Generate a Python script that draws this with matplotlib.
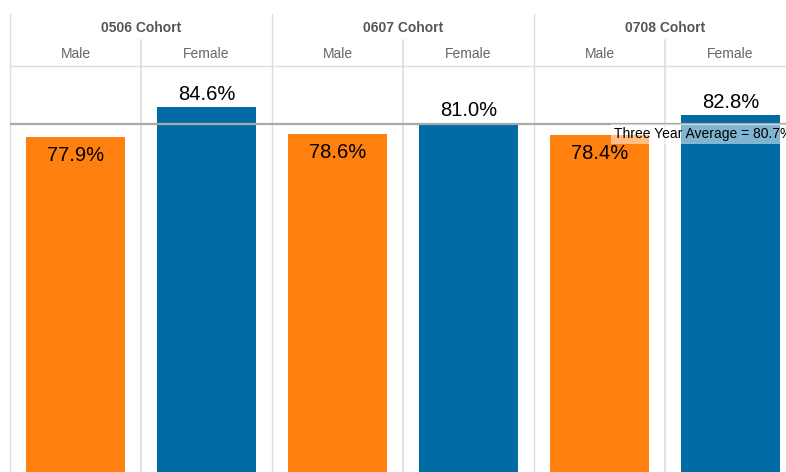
import matplotlib
matplotlib.use("Agg")
import matplotlib.pyplot as plt

plt.rcParams['font.family'] = ['Liberation Sans', 'DejaVu Sans']

cohorts = ["0506 Cohort", "0607 Cohort", "0708 Cohort"]
genders = ["Male", "Female"]
male_rate = [77.9, 78.6, 78.4]
female_rate = [84.6, 81.0, 82.8]
three_year_avg = 80.7

orange = '#FF800E'
blue = '#006BA4'
grid_col = '#dedede'

W, H = 786, 472
fig = plt.figure(figsize=(W / 100, H / 100), dpi=100)
# plot area: from x=10px, top at y=66px, runs off the right and bottom edges
ax = fig.add_axes([10 / W, 0, 786 / W, (H - 66) / H])

xs_m = [2 * i for i in range(len(cohorts))]
xs_f = [2 * i + 1 for i in range(len(cohorts))]
ax.bar(xs_m, male_rate, width=0.75, color=orange, zorder=2)
ax.bar(xs_f, female_rate, width=0.75, color=blue, zorder=2)

ax.set_xlim(-0.5, 5.5)
ax.set_ylim(3.13, 93.75)
ax.set_xticks([])
ax.set_yticks([])
for s in ['left', 'right', 'bottom']:
    ax.spines[s].set_visible(False)
ax.spines['top'].set_color(grid_col)
ax.spines['top'].set_linewidth(1.0)

tr = ax.get_xaxis_transform()
y_cohort_top = (H - 14) / (H - 66)
y_gender_top = (H - 40) / (H - 66)
for i in range(len(cohorts)):
    x0 = 2 * i - 0.5
    ax.plot([x0, x0], [0, y_cohort_top], color=grid_col, lw=1.0,
            transform=tr, clip_on=False, zorder=1)
    ax.plot([x0 + 1, x0 + 1], [0, y_gender_top], color=grid_col, lw=1.2,
            transform=tr, clip_on=False, zorder=1)
    ax.text(2 * i + 0.5, (H - 28) / (H - 66), cohorts[i], transform=tr,
            ha='center', va='center', fontsize=10, fontweight='bold',
            color='#555555')
    for j, g in enumerate(genders):
        ax.text(2 * i + j, (H - 54) / (H - 66), g, transform=tr,
                ha='center', va='center', fontsize=10, color='#666666')

# value labels
for x, v in zip(xs_m, male_rate):
    ax.annotate(f"{v:.1f}%", (x, v), xytext=(0, -17.6), textcoords='offset points',
                ha='center', va='baseline', fontsize=14.5, color='black', zorder=4)
for x, v in zip(xs_f, female_rate):
    ax.annotate(f"{v:.1f}%", (x, v), xytext=(0, 5), textcoords='offset points',
                ha='center', va='baseline', fontsize=14.5, color='black', zorder=4)

# reference line
ax.axhline(three_year_avg, color='#aaaaaa', lw=1.6, zorder=3)
ax.annotate(f"Three Year Average = {three_year_avg}%", (4.111, three_year_avg),
            xytext=(0, -7), textcoords='offset points', ha='left', va='center',
            fontsize=10, color='black', zorder=5,
            bbox=dict(boxstyle='square,pad=0.2', facecolor='white', alpha=0.5,
                      edgecolor='none'))

fig.savefig('out.png', dpi=100)
